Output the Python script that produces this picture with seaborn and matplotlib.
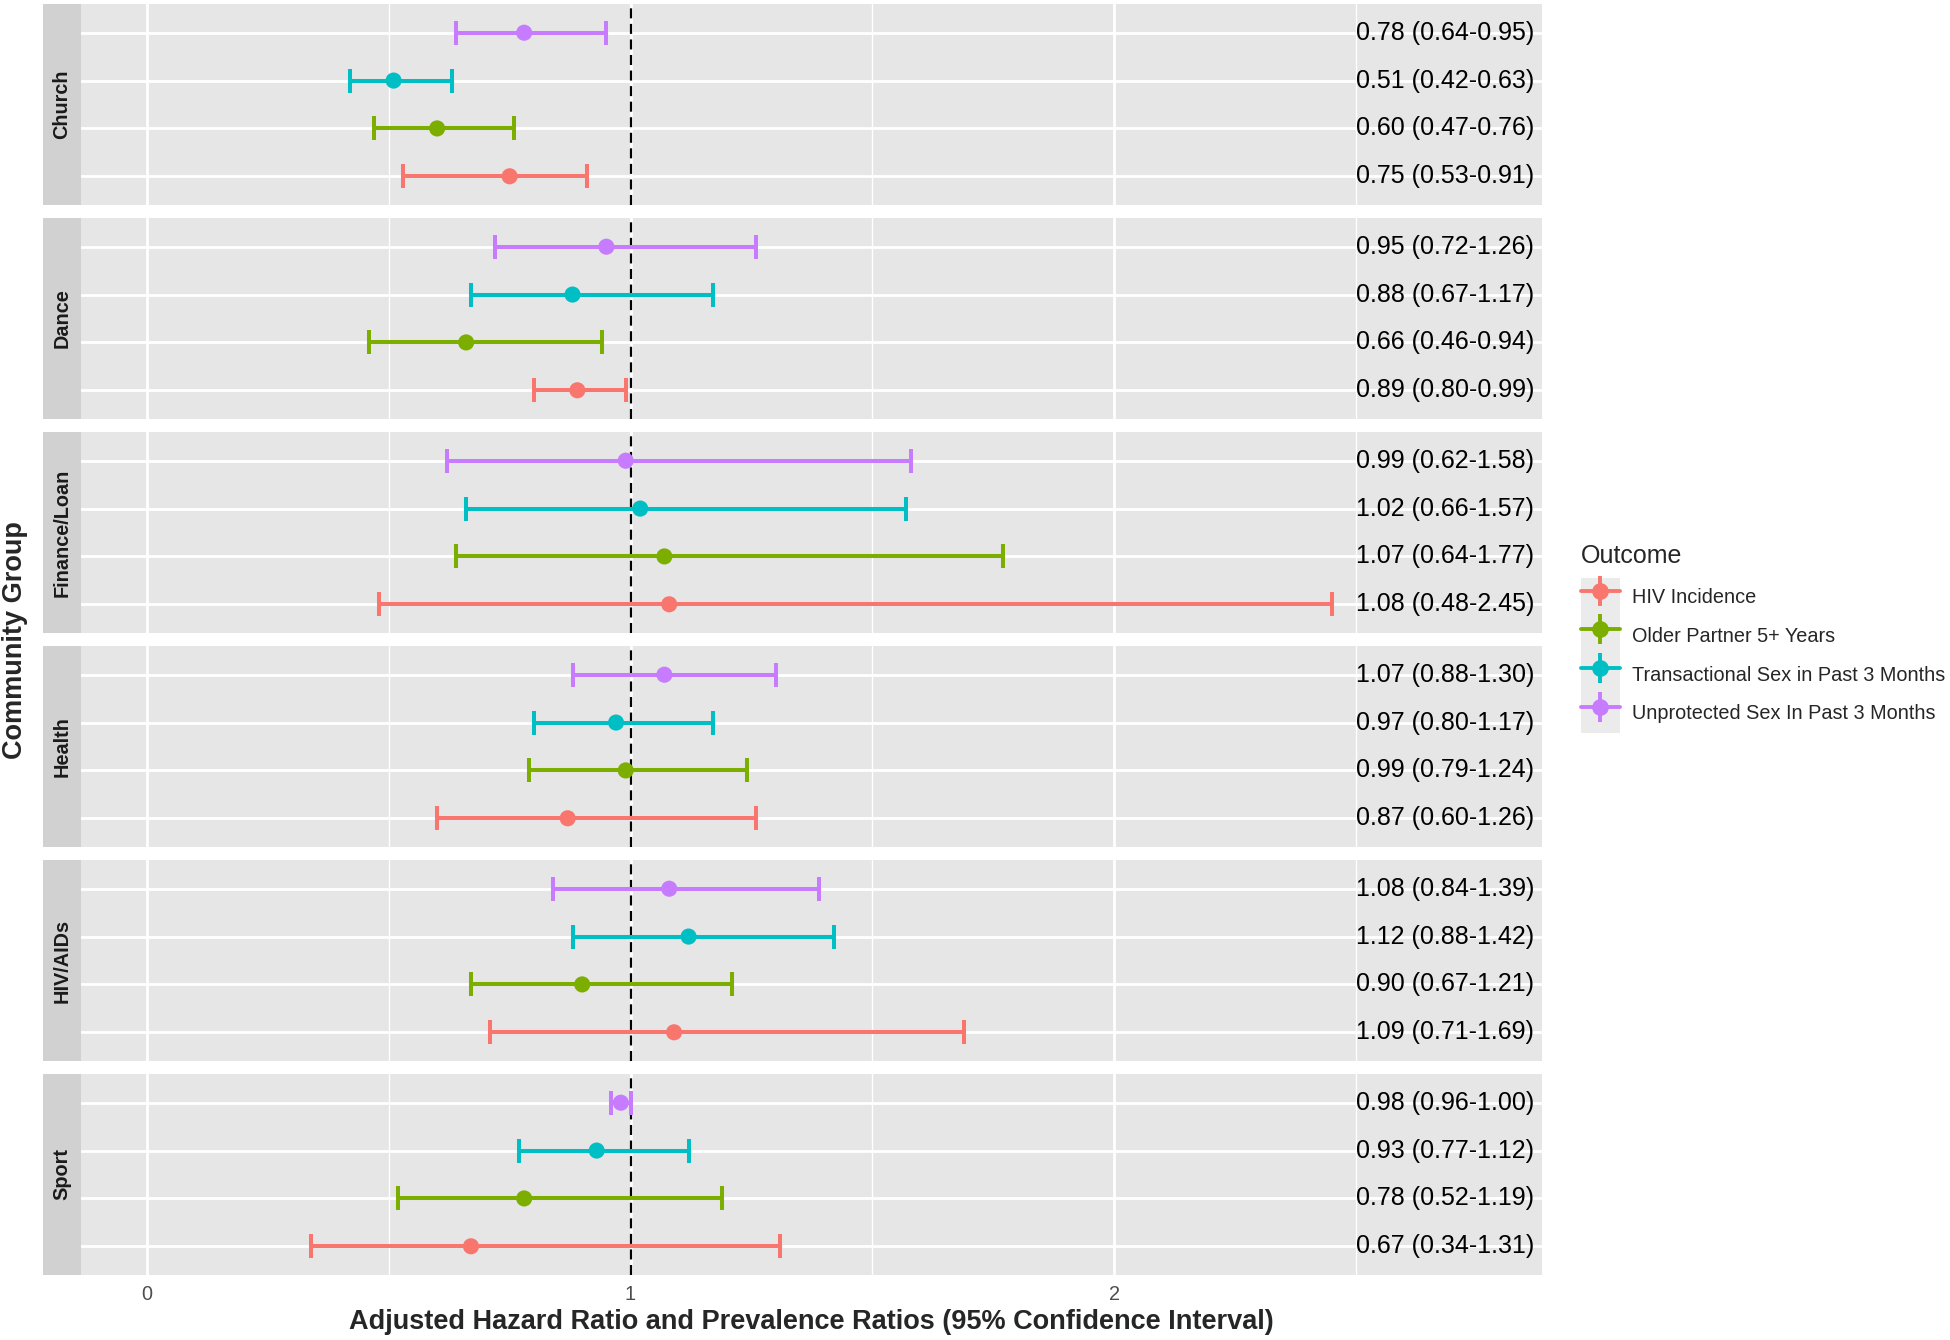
import numpy as np
import pandas as pd
import matplotlib
matplotlib.use("Agg")
import matplotlib.pyplot as plt
from matplotlib.lines import Line2D
from matplotlib.patches import Patch
from matplotlib.legend_handler import HandlerTuple
import seaborn as sns

# --- Data ---
groups = ["Church", "Dance", "Finance/Loan", "Health", "HIV/AIDs", "Sport"]
outcomes = ["HIV Incidence", "Older Partner 5+ Years",
            "Transactional Sex in Past 3 Months", "Unprotected Sex In Past 3 Months"]
colors = ["#F8766D", "#7CAE00", "#00BFC4", "#C77CFF"]

hiv_est = [0.75, 0.89, 1.08, 0.87, 1.09, 0.67]
hiv_lo = [0.53, 0.80, 0.48, 0.60, 0.71, 0.34]
hiv_hi = [0.91, 0.99, 2.45, 1.26, 1.69, 1.31]

older_est = [0.60, 0.66, 1.07, 0.99, 0.90, 0.78]
older_lo = [0.47, 0.46, 0.64, 0.79, 0.67, 0.52]
older_hi = [0.76, 0.94, 1.77, 1.24, 1.21, 1.19]

trans_est = [0.51, 0.88, 1.02, 0.97, 1.12, 0.93]
trans_lo = [0.42, 0.67, 0.66, 0.80, 0.88, 0.77]
trans_hi = [0.63, 1.17, 1.57, 1.17, 1.42, 1.12]

unprot_est = [0.78, 0.95, 0.99, 1.07, 1.08, 0.98]
unprot_lo = [0.64, 0.72, 0.62, 0.88, 0.84, 0.96]
unprot_hi = [0.95, 1.26, 1.58, 1.30, 1.39, 1.00]

series = [(hiv_est, hiv_lo, hiv_hi), (older_est, older_lo, older_hi),
          (trans_est, trans_lo, trans_hi), (unprot_est, unprot_lo, unprot_hi)]

rows = []
for oi, (est, lo, hi) in enumerate(series):
    for gi, g in enumerate(groups):
        rows.append({"group": g, "outcome": outcomes[oi], "ypos": oi,
                     "est": est[gi], "lo": lo[gi], "hi": hi[gi],
                     "label": f"{est[gi]:.2f} ({lo[gi]:.2f}-{hi[gi]:.2f})"})
df = pd.DataFrame(rows)
palette = dict(zip(outcomes, colors))

# --- Style ---
sns.set_theme(style="darkgrid", rc={"axes.facecolor": "#E6E6E6", "grid.color": "white"})
plt.rcParams['font.family'] = ['Liberation Sans', 'DejaVu Sans']

W, H = 1950, 1340
fig = plt.figure(figsize=(W / 100, H / 100), dpi=100)
fig.patch.set_facecolor("white")

panel_left, panel_right, strip_left = 81, 1542, 43
panel_h, panel_step, panel_top0 = 201, 214, 4

for i, g in enumerate(groups):
    top = panel_top0 + i * panel_step
    bottom_frac = 1 - (top + panel_h) / H
    ax = fig.add_axes([panel_left / W, bottom_frac, (panel_right - panel_left) / W, panel_h / H])
    sax = fig.add_axes([strip_left / W, bottom_frac, (panel_left - strip_left) / W, panel_h / H])

    sub = df[df["group"] == g]
    ax.set_xlim(-0.1365, 2.885)
    ax.set_ylim(-0.6, 3.6)
    ax.set_xticks([0, 1, 2])
    ax.set_xticks([0.5, 1.5, 2.5], minor=True)
    ax.set_yticks(range(len(outcomes)))
    ax.set_yticklabels([])
    ax.grid(which="major", color="white", lw=2.0)
    ax.grid(which="minor", axis="x", color="white", lw=1.0)
    ax.grid(which="minor", axis="y", visible=False)
    ax.set_axisbelow(True)
    for sp in ax.spines.values():
        sp.set_visible(False)

    ax.axvline(1, color="black", lw=1.6, ls=(0, (4.5, 2.5)), zorder=2)

    for o in outcomes:
        r = sub[sub["outcome"] == o]
        ax.errorbar(r["est"], r["ypos"],
                    xerr=[r["est"] - r["lo"], r["hi"] - r["est"]],
                    fmt="none", ecolor=palette[o], elinewidth=2.9,
                    capsize=8.5, capthick=2.9, zorder=3)
    sns.scatterplot(data=sub, x="est", y="ypos", hue="outcome", hue_order=outcomes,
                    palette=palette, s=135, linewidth=0, legend=False, ax=ax, zorder=4)

    for _, r in sub.iterrows():
        ax.text(2.5, r["ypos"], r["label"], ha="left", va="center",
                fontsize=18, color="black", zorder=5)

    ax.set_xlabel("")
    ax.set_ylabel("")
    ax.tick_params(axis="y", length=0)
    if i == len(groups) - 1:
        ax.tick_params(axis="x", which="major", length=4.5, width=1.1, color="#333333",
                       labelsize=14.3, labelcolor="#4D4D4D", pad=3)
        ax.tick_params(axis="x", which="minor", length=0)
        ax.set_xlabel("Adjusted Hazard Ratio and Prevalence Ratios (95% Confidence Interval)",
                      fontsize=19.5, fontweight="bold", labelpad=3)
    else:
        ax.tick_params(axis="x", which="both", length=0, labelbottom=False)

    # facet strip on the left
    sax.set_facecolor("#D1D1D1")
    sax.grid(False)
    sax.set_xticks([])
    sax.set_yticks([])
    for sp in sax.spines.values():
        sp.set_visible(False)
    sax.text(0.5, 0.5, g, rotation=90, ha="center", va="center", fontsize=14.3,
             fontweight="bold", color="#1A1A1A", transform=sax.transAxes)

fig.text(15 / W, 1 - 640 / H, "Community Group", rotation=90, ha="center", va="center",
         fontsize=19.5, fontweight="bold")

# legend: title as its own text, keys on a light grey column
fig.text(1581 / W, 1 - 556 / H, "Outcome", ha="left", va="center", fontsize=18)
handles = [(Patch(facecolor="#EBEBEB", edgecolor="none"),
            Line2D([], [], color=c, lw=2.8, marker="o", ms=11),
            Line2D([], [], color=c, marker="|", ms=22, mew=2.8, ls="none"))
           for c in colors]
fig.legend(handles, outcomes, handler_map={tuple: HandlerTuple(ndivide=1, pad=0)},
           loc="upper left", bbox_to_anchor=(1581 / W, 1 - 578 / H), frameon=False,
           fontsize=14.3, handlelength=1.95, handleheight=2.62, labelspacing=0,
           handletextpad=0.6, borderpad=0, borderaxespad=0)

fig.savefig("out.png", dpi=100)
